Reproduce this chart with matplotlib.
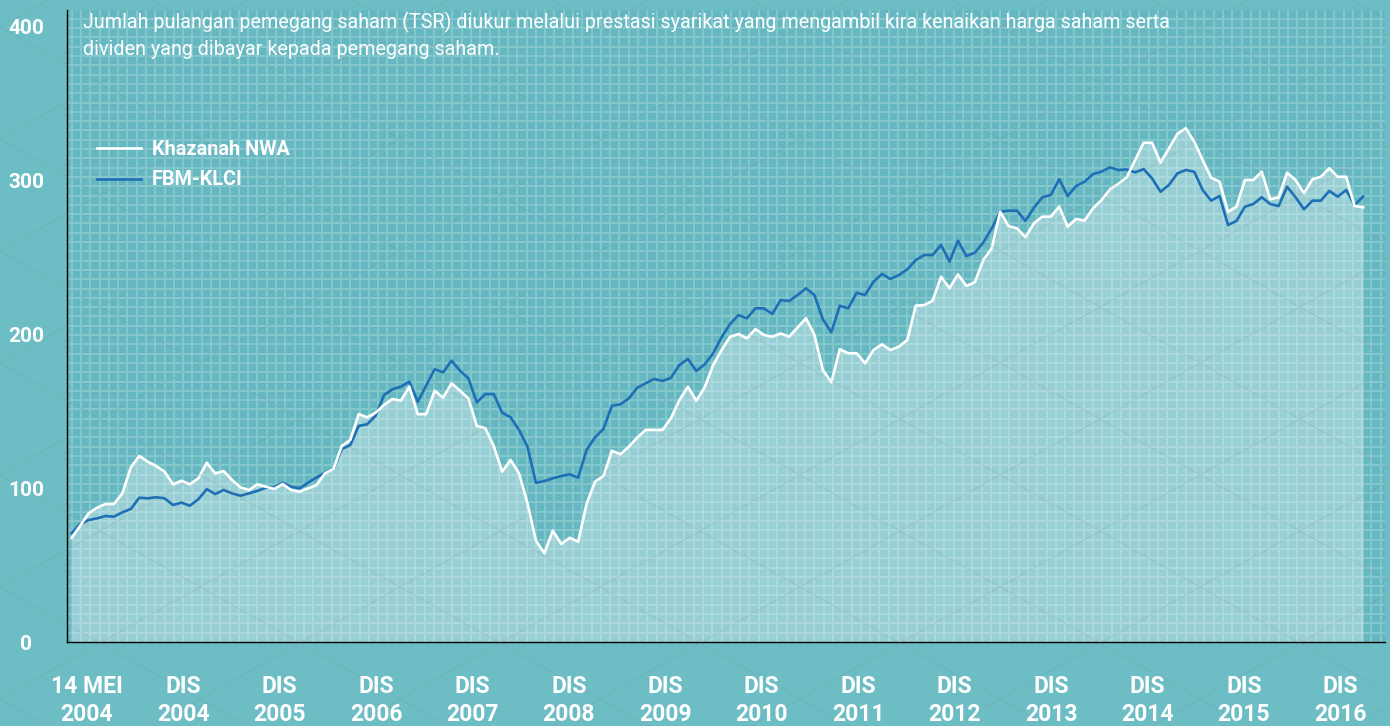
import numpy as np
import matplotlib
matplotlib.use("Agg")
import matplotlib.pyplot as plt
from matplotlib.ticker import MultipleLocator

# Data (index TSR), roughly monthly
khazanah = [
    67.7, 75.5, 83.6, 87.2, 89.6, 89.6, 96.5, 113.4, 120.8, 117.1, 114.3, 110.6, 102.4, 104.7,
    102.4, 106.3, 116.4, 109.5, 111.0, 105.2, 100.4, 98.7, 102.4, 100.8, 99.4, 102.6, 98.7,
    97.6, 99.8, 101.9, 109.5, 112.3, 127.3, 131.2, 148.0, 145.9, 148.9, 153.9, 157.8, 156.7,
    165.8, 147.9, 148.0, 163.2, 158.6, 168.0, 163.2, 158.2, 140.3, 138.8, 127.3, 110.6, 118.2,
    109.5, 90.0, 65.8, 57.6, 72.3, 63.6, 67.7, 65.1, 89.6, 104.1, 107.8, 124.2, 121.9, 126.8,
    132.7, 137.7, 137.7, 137.7, 145.3, 157.1, 165.8, 156.7, 165.4, 179.9, 189.6, 198.2,
    200.0, 197.2, 203.2, 199.4, 198.2, 200.4, 198.2, 204.3, 210.2, 199.4, 176.6, 168.6, 190.1,
    187.5, 187.5, 181.0, 189.6, 193.3, 189.6, 191.8, 196.1, 218.4, 218.8, 221.6, 237.2, 229.7,
    238.8, 231.2, 233.6, 248.0, 255.6, 279.4, 270.1, 268.6, 262.8, 271.9, 276.2, 276.2, 282.7,
    269.7, 274.7, 273.6, 281.6, 286.9, 293.9, 297.4, 301.7, 313.0, 324.2, 324.2, 311.2, 320.6,
    329.9, 333.6, 324.9, 313.0, 301.5, 298.9, 279.4, 282.7, 300.0, 300.0, 305.4, 287.5, 288.8,
    304.7, 300.0, 291.4, 300.5, 302.1, 307.6, 302.1, 302.1, 283.1, 282.3,
]
fbm_klci = [
    70.6, 76.6, 79.2, 80.3, 81.8, 81.4, 84.2, 86.4, 93.7, 93.3, 94.0, 93.3, 89.0, 90.5, 88.5,
    92.7, 99.2, 96.1, 98.7, 96.5, 95.0, 96.5, 98.1, 100.2, 100.4, 103.4, 100.8,
    99.8, 103.4, 106.9, 109.9, 112.3, 125.3, 127.9, 140.3, 141.4, 146.8, 160.4, 164.1, 165.8,
    169.0, 156.0, 166.6, 177.1, 175.1, 182.7, 176.2, 171.2, 155.6, 161.0, 161.0, 148.9, 145.9,
    137.7, 126.8, 103.4, 104.5, 106.3, 107.8, 108.9, 106.7, 124.7, 132.9, 138.3, 153.4, 154.3,
    158.2, 165.1, 168.0, 170.8, 169.5, 171.6, 179.9, 183.8, 176.0, 180.3, 187.5, 197.9, 206.5,
    212.3, 210.2, 216.7, 216.7, 213.0, 222.1, 221.4, 225.3, 229.7, 225.3, 209.5, 201.1, 218.4,
    216.7, 226.8, 225.3, 234.0, 239.0, 235.7, 238.3, 242.0, 248.0, 251.3, 251.3, 257.8, 247.0,
    260.6, 250.6, 252.8, 259.3, 268.6, 279.4, 280.1, 280.1, 273.4, 282.0, 288.8, 290.3, 300.5,
    289.6, 296.1, 298.9, 303.9, 305.4, 308.2, 306.5, 306.9, 305.0, 307.1, 301.1, 292.4, 296.8,
    304.3, 306.5, 305.4, 293.5, 286.6, 289.6, 270.8, 273.4, 282.7, 284.4, 288.8, 284.4, 283.1,
    295.6, 288.8, 281.0, 286.6, 286.6, 292.9, 289.2, 293.5, 283.8, 289.2,
]
x_labels = ["14 MEI\n2004", "DIS\n2004", "DIS\n2005", "DIS\n2006", "DIS\n2007", "DIS\n2008",
            "DIS\n2009", "DIS\n2010", "DIS\n2011", "DIS\n2012", "DIS\n2013", "DIS\n2014",
            "DIS\n2015", "DIS\n2016"]
y_ticks = [0, 100, 200, 300, 400]
note = ("Jumlah pulangan pemegang saham (TSR) diukur melalui prestasi syarikat yang mengambil kira kenaikan harga saham serta\n"
        "dividen yang dibayar kepada pemegang saham.")

BG = "#6dbdc5"
FONT = ["Roboto", "DejaVu Sans"]
plt.rcParams["font.family"] = FONT

fig = plt.figure(figsize=(13.9, 7.26), dpi=100, facecolor=BG)
ax = fig.add_axes([67 / 1390, 84 / 726, 1318 / 1390, 632 / 726])
ax.set_facecolor("#65b8c1")

x = np.arange(len(khazanah))
ax.set_xlim(-0.56, 155.6)
ax.set_ylim(0, 410.4)

# fijn raster
ax.xaxis.set_minor_locator(MultipleLocator(1.1))
ax.yaxis.set_minor_locator(MultipleLocator(6.04))
ax.grid(which="minor", color="#84c8ce", lw=1.4, zorder=0)
ax.set_axisbelow(True)

ax.fill_between(x, 0, khazanah, color="white", alpha=0.33, lw=0, zorder=1)
ax.plot(x, fbm_klci, color="#1f6fb6", lw=1.9, zorder=3, label="FBM-KLCI")
ax.plot(x, khazanah, color="white", lw=1.9, zorder=4, label="Khazanah NWA")

ax.set_xticks(np.linspace(1.8, 150.3, len(x_labels)))
ax.set_xticklabels(x_labels, fontsize=16.5, fontweight="bold", color="white", linespacing=1.25)
ax.set_yticks(y_ticks)
ax.set_yticklabels([str(v) for v in y_ticks], fontsize=15, fontweight="bold", color="white", ha="center")
ax.tick_params(axis="x", which="both", length=0, pad=24)
ax.tick_params(axis="y", which="both", length=0, pad=29.5)

for s in ["top", "right"]:
    ax.spines[s].set_visible(False)
for s in ["left", "bottom"]:
    ax.spines[s].set_color("black")
    ax.spines[s].set_linewidth(1.0)

handles, labels = ax.get_legend_handles_labels()
leg = ax.legend(handles[::-1], labels[::-1], loc="upper left", bbox_to_anchor=(0.0228, 0.795),
                frameon=False, handlelength=2.2, handletextpad=0.55, labelspacing=0.6,
                borderpad=0, borderaxespad=0,
                prop={"family": FONT, "weight": "bold", "size": 14.3})
for t in leg.get_texts():
    t.set_color("white")

ax.text(0.0122, 0.997, note, transform=ax.transAxes, ha="left", va="top", fontsize=14.2,
        fontweight="normal", color="white", linespacing=1.5)

# diamond patroon over het geheel
ov = fig.add_axes([0, 0, 1, 1], zorder=10)
ov.set_xlim(0, 1390)
ov.set_ylim(726, 0)
ov.axis("off")
ov.patch.set_alpha(0)
s, d = 0.56, 112.0
xs = np.array([0, 1390])
c1 = (643 - s * 100) % d
c2 = (643 + s * 100) % d
for k in range(-15, 20):
    ov.plot(xs, s * xs + c1 + k * d, color="#7a8c90", lw=0.9, alpha=0.16)
    ov.plot(xs, -s * xs + c2 + k * d, color="#7a8c90", lw=0.9, alpha=0.16)

fig.savefig("out.png", dpi=100, facecolor=BG)
